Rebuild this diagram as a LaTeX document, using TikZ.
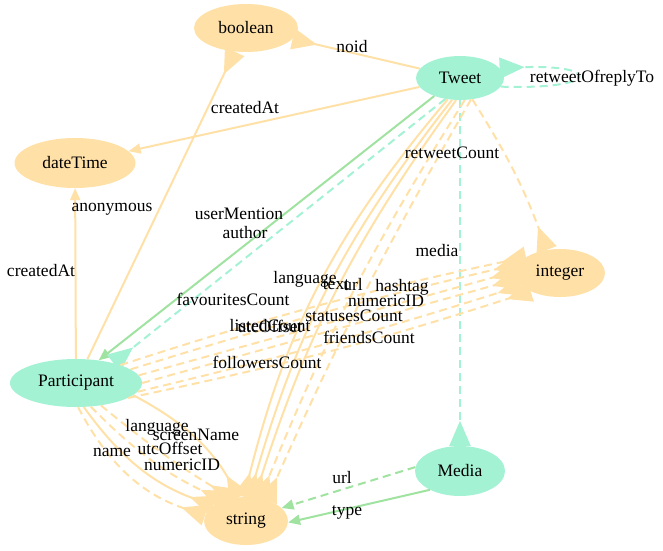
\documentclass[tikz,border=0pt]{standalone}
\usepackage{fontspec}
\setmainfont{Liberation Serif}
\usetikzlibrary{shapes.geometric,arrows.meta}
\definecolor{peach}{RGB}{255,225,168}
\definecolor{aqua}{RGB}{163,242,212}
\definecolor{leaf}{RGB}{160,226,160}
\begin{document}
\begin{tikzpicture}[x=1pt,y=-1pt,
  every node/.style={font=\fontsize{17.5}{20}\selectfont},
  datatype/.style={ellipse,fill=peach,inner sep=0pt},
  entity/.style={ellipse,fill=aqua,inner sep=0pt},
  lbl/.style={inner sep=0pt},
  link/.style={line width=2pt},
  dsh/.style={dash pattern=on 8pt off 5pt},
  inv/.style={-{Triangle[reversed,length=25pt,width=21pt]}},
  fwd/.style={-{Triangle[length=12pt,width=10pt]}},
]
\useasboundingbox (0,0) rectangle (663,550);

% classes and datatypes
\node[datatype,minimum width=104pt,minimum height=48pt] (boolean) at (246,28) {boolean};
\node[entity,minimum width=88pt,minimum height=44pt] (Tweet) at (460,78) {Tweet};
\node[datatype,minimum width=121pt,minimum height=50pt] (dateTime) at (75,163) {dateTime};
\node[datatype,minimum width=90pt,minimum height=48pt] (integer) at (560,273) {integer};
\node[entity,minimum width=132pt,minimum height=48pt] (Participant) at (76,383) {Participant};
\node[datatype,minimum width=84pt,minimum height=48pt] (string) at (246,521) {string};
\node[entity,minimum width=90pt,minimum height=50pt] (Media) at (460,471) {Media};

% Tweet properties
\draw[link,peach,inv] (Tweet) -- (boolean);
\draw[link,peach,fwd] (Tweet) -- (dateTime);
\draw[link,aqua,dsh,inv] (Tweet.-12) .. controls (602,90) and (602,64) .. (Tweet.14);
\draw[link,leaf,fwd] (Tweet.215) -- (Participant.45);
\draw[link,aqua,dsh,inv] (Tweet.235) -- (Participant.28);
\draw[link,peach,dsh,inv] (Tweet.300) to[bend left=6] (integer.120);
\draw[link,aqua,dsh,inv] (Tweet) -- (Media);
\draw[link,peach,inv] (Tweet.240) to[bend right=13] (string.95);
\draw[link,peach,inv] (Tweet.250) to[bend right=11] (string.82);
\draw[link,peach,inv] (Tweet.260) to[bend right=9] (string.70);
\draw[link,peach,dsh,inv] (Tweet.282) to[bend right=5] (string.58);
\draw[link,peach,dsh,inv] (Tweet.297) to[bend right=3] (string.45);

% Participant properties
\draw[link,peach,inv] (Participant) -- (boolean);
\draw[link,peach,fwd] (Participant) -- (dateTime);
\draw[link,peach,dsh,inv] (Participant.22) to[bend left=3] (integer.155);
\draw[link,peach,dsh,inv] (Participant.14) to[bend left=2] (integer.168);
\draw[link,peach,dsh,inv] (Participant.7) -- (integer.178);
\draw[link,peach,dsh,inv] (Participant.0) -- (integer.188);
\draw[link,peach,dsh,inv] (Participant.-8) to[bend right=2] (integer.198);
\draw[link,peach,dsh,inv] (Participant.-16) to[bend right=3] (integer.212);
\draw[link,peach,dsh,inv] (Participant.-85) to[bend right=22] (string.172);
\draw[link,peach,inv] (Participant.-72) to[bend right=17] (string.155);
\draw[link,peach,dsh,inv] (Participant.-58) to[bend right=10] (string.138);
\draw[link,peach,dsh,inv] (Participant.-42) to[bend right=4] (string.122);
\draw[link,peach,inv] (Participant.-12) to[bend left=16] (string.106);

% Media properties
\draw[link,leaf,dsh,fwd] (Media.175) -- (string.20);
\draw[link,leaf,fwd] (Media.212) -- (string.-2);

% property labels
\node[lbl] (l-noid) at (352,47) {noid};
\node[lbl] (l-retweet) at (592,78) {retweetOfreplyTo};
\node[lbl] (l-tcreated) at (245,108) {createdAt};
\node[lbl] (l-rtcount) at (452,153) {retweetCount};
\node[lbl] (l-anon) at (112,209) {anonymous};
\node[lbl] (l-mention) at (239,214) {userMention};
\node[lbl] (l-author) at (245,233) {author};
\node[lbl] (l-media) at (437,251) {media};
\node[lbl] (l-pcreated) at (41,271) {createdAt};
\node[lbl] (l-tlang) at (305,279) {language};
\node[lbl] (l-text) at (336,285) {text};
\node[lbl] (l-turl) at (353,285) {url};
\node[lbl] (l-hashtag) at (402,287) {hashtag};
\node[lbl] (l-tnum) at (386,301) {numericID};
\node[lbl] (l-fav) at (233,299) {favouritesCount};
\node[lbl] (l-listed) at (270,326) {listedCount};
\node[lbl] (l-putc) at (270,326) {utcOffset};
\node[lbl] (l-status) at (354,316) {statusesCount};
\node[lbl] (l-friends) at (369,337) {friendsCount};
\node[lbl] (l-followers) at (267,362) {followersCount};
\node[lbl] (l-plang) at (157,427) {language};
\node[lbl] (l-screen) at (196,435) {screenName};
\node[lbl] (l-name) at (112,452) {name};
\node[lbl] (l-putc2) at (170,448) {utcOffset};
\node[lbl] (l-pnum) at (182,465) {numericID};
\node[lbl] (l-murl) at (342,478) {url};
\node[lbl] (l-type) at (347,512) {type};
\end{tikzpicture}
\end{document}
